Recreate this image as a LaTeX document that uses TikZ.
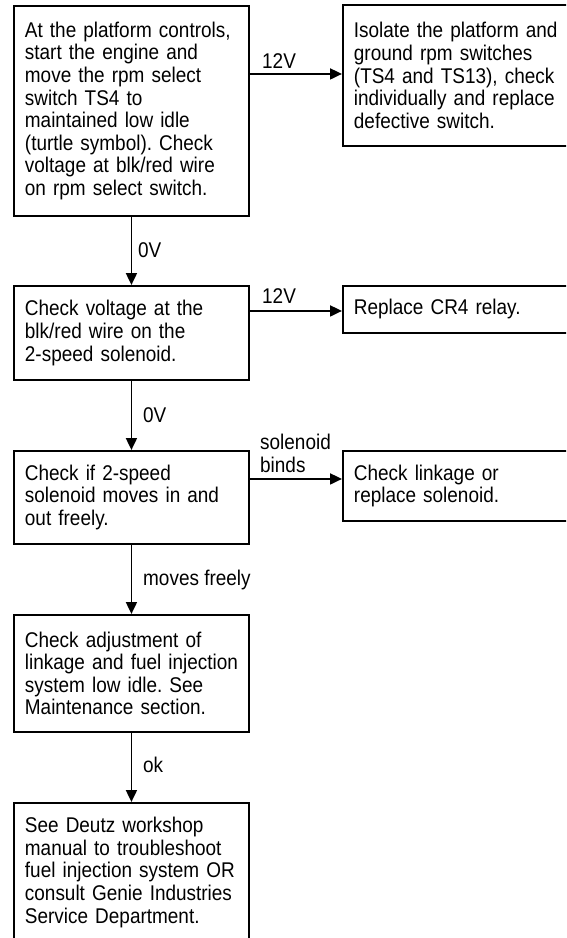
\documentclass[tikz,border=0pt]{standalone}
\usepackage{fontspec}
\setmainfont{Liberation Sans}[FakeStretch=0.89]
\usetikzlibrary{arrows.meta}
\frenchspacing
\hyphenpenalty=10000

\begin{document}
\begin{tikzpicture}[x=1pt,y=-1pt,
  >={Triangle[length=12pt,width=11pt]},
  font=\fontsize{21.3}{22.6}\selectfont,
  box/.style={draw,line width=1.9pt,anchor=north west,align=left,
    inner xsep=11pt,inner ysep=3pt},
  lbox/.style={box,text width=213pt},
  rbox/.style={box,text width=240pt},
  lbl/.style={anchor=base west,inner sep=0pt},
  flow/.style={->,line width=1.9pt}]
\useasboundingbox (0,0) rectangle (566,938);
\clip (0,0) rectangle (566,938);

\node[lbox,minimum height=210pt] (start) at (13,5) {At the platform controls,\\start the engine and\\move the rpm select\\switch TS4 to\\maintained low idle\\(turtle symbol). Check\\voltage at blk/red wire\\on rpm select switch.};
\node[rbox,minimum height=141pt] (isolate) at (342,4) {Isolate the platform and\\ground rpm switches\\(TS4 and TS13), check\\individually and replace\\defective switch.};

\node[lbox,minimum height=94pt] (solv) at (13,285) {Check voltage at the\\blk/red wire on the\\2-speed solenoid.};
\node[rbox,minimum height=47pt] (relay) at (342,285) {Replace CR4 relay.};

\node[lbox,minimum height=93pt] (movein) at (13,450) {Check if 2-speed\\solenoid moves in and\\out freely.};
\node[rbox,minimum height=70pt] (linkage) at (342,450) {Check linkage or\\replace solenoid.};

\node[lbox,minimum height=117pt] (adjust) at (13,614) {Check adjustment of\\linkage~and~fuel~injection\\system low idle. See\\Maintenance section.};
\node[lbox,minimum height=139pt] (deutz) at (13,802) {See Deutz workshop\\manual to troubleshoot\\fuel injection system OR\\consult Genie Industries\\Service Department.};

% answers on the arrows
\node[lbl] (v12a) at (262,68) {12V};
\node[lbl] (v0a) at (138,257) {0V};
\node[lbl] (v12b) at (262,303) {12V};
\node[lbl] (v0b) at (143,422) {0V};
\node[lbl,align=left] (binds) at (260,472) {solenoid\\binds};
\node[lbl] (free) at (143,585) {moves freely};
\node[lbl] (okay) at (143,772) {ok};

\draw[flow] ([yshift=1.5pt]isolate.west -| start.east) -- ([yshift=1.5pt]isolate.west);
\draw[flow] (start.south) -- (solv.north);
\draw[flow] ([yshift=-1.5pt]relay.west -| solv.east) -- ([yshift=-1.5pt]relay.west);
\draw[flow] (solv.south) -- (movein.north);
\draw[flow] ([yshift=7pt]linkage.west -| movein.east) -- ([yshift=7pt]linkage.west);
\draw[flow] (movein.south) -- (adjust.north);
\draw[flow] (adjust.south) -- (deutz.north);
\end{tikzpicture}
\end{document}
